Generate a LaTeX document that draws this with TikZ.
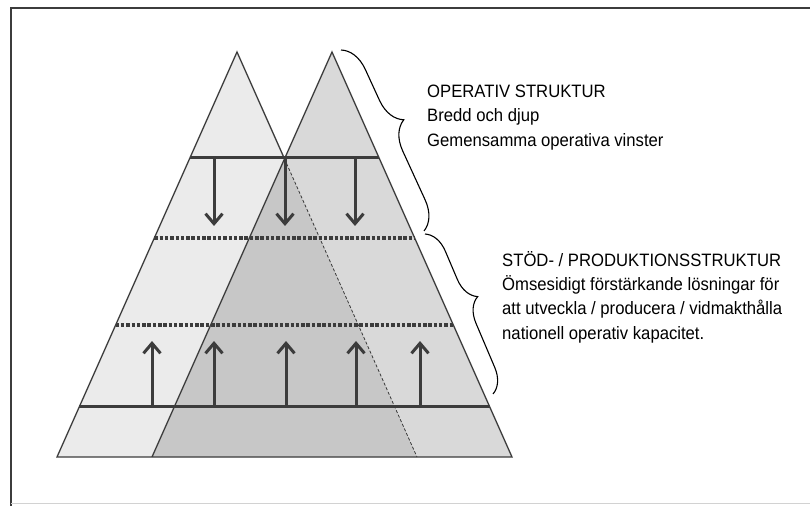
\documentclass[tikz,border=0pt]{standalone}
\usepackage{fontspec}
\setmainfont{Liberation Sans}[FakeStretch=0.93]
\usetikzlibrary{calc,arrows.meta,decorations.pathreplacing}
\definecolor{lightfill}{HTML}{EBEBEB}
\definecolor{midfill}{HTML}{D9D9D9}
\definecolor{darkfill}{HTML}{C7C7C7}
\definecolor{linegray}{HTML}{3C3C3C}
\begin{document}
\begin{tikzpicture}[x=1bp,y=-1bp,
    edge/.style={draw=linegray,line width=1.3bp},
    level/.style={draw=linegray,line width=3bp},
    dots/.style={draw=linegray,line width=3.5bp,dash pattern=on 3.5bp off 1.8bp},
    arr/.style={draw=linegray,line width=3bp,-{Straight Barb[length=10bp,width=17bp]}},
    lbl/.style={anchor=base west,inner sep=0pt,font=\fontsize{18}{24}\selectfont},
    brc/.style={draw=black,line width=1.1bp,decorate,
      decoration={brace,amplitude=#1,aspect=0.45}},
    brc/.default=26bp]
  \useasboundingbox (0,0) rectangle (810,506);
  % frame
  \draw[linegray,line width=2bp] (11,506) -- (11,8) -- (810,8);
  \draw[gray!35,line width=1bp] (11,503) -- (810,503);
  % the two pyramids
  \path
    (237,52) coordinate (lA)
    (57,457) coordinate (lB)
    (417,457) coordinate (lC)
    (332,52) coordinate (rA)
    (152,457) coordinate (rB)
    (512,457) coordinate (rC);
  \path (intersection of lA--lC and rA--rB) coordinate (cross);
  \fill[lightfill] (lA) -- (lB) -- (lC) -- cycle;
  \fill[midfill] (rA) -- (rB) -- (rC) -- cycle;
  \fill[darkfill] (cross) -- (rB) -- (lC) -- cycle;
  \draw[edge] (cross) -- (lA) -- (lB) -- (rC) -- (rA) -- (rB);
  \draw[linegray,line width=0.8bp,dash pattern=on 3bp off 2bp] (cross) -- (lC);
  % levels
  \path
    ($(lA)!0.2617!(lB)$) coordinate (h1w)
    ($(rA)!0.2617!(rC)$) coordinate (h1e)
    ($(lA)!0.4593!(lB)$) coordinate (h2w)
    ($(rA)!0.4593!(rC)$) coordinate (h2e)
    ($(lA)!0.6741!(lB)$) coordinate (h3w)
    ($(rA)!0.6741!(rC)$) coordinate (h3e)
    ($(lA)!0.8765!(lB)$) coordinate (h4w)
    ($(rA)!0.8765!(rC)$) coordinate (h4e);
  \draw[level] (h1w) -- (h1e);
  \draw[dots] (h2w) -- (h2e);
  \draw[dots] (h3w) -- (h3e);
  \draw[level] (h4w) -- (h4e);
  % arrows
  \path
    (214,158) coordinate (d1) (214,226) coordinate (d1t)
    (285,158) coordinate (d2) (285,226) coordinate (d2t)
    (355,158) coordinate (d3) (355,226) coordinate (d3t)
    (152,407) coordinate (u1) (152,341) coordinate (u1t)
    (214,407) coordinate (u2) (214,341) coordinate (u2t)
    (286,407) coordinate (u3) (286,341) coordinate (u3t)
    (356,407) coordinate (u4) (356,341) coordinate (u4t)
    (420,407) coordinate (u5) (420,341) coordinate (u5t);
  \begin{scope}[arr]
    \draw (d1) to (d1t);
    \draw (d2) to (d2t);
    \draw (d3) to (d3t);
    \draw (u1) to (u1t);
    \draw (u2) to (u2t);
    \draw (u3) to (u3t);
    \draw (u4) to (u4t);
    \draw (u5) to (u5t);
  \end{scope}
  % braces
  \path
    (341,50) coordinate (b1s) (424,231) coordinate (b1e)
    (425,234) coordinate (b2s) (493,394) coordinate (b2e);
  \draw[brc=28bp] (b1s) -- (b1e);
  \draw[brc=24bp] (b2s) -- (b2e);
  % texts
  \node[lbl] (op1) at (427,98) {OPERATIV STRUKTUR};
  \node[lbl] (op2) at (427,122) {Bredd och djup};
  \node[lbl] (op3) at (427,147) {Gemensamma operativa vinster};
  \node[lbl] (st1) at (502,267) {STÖD- / PRODUKTIONSSTRUKTUR};
  \node[lbl] (st2) at (502,291) {Ömsesidigt förstärkande lösningar för};
  \node[lbl] (st3) at (502,315) {att utveckla / producera / vidmakthålla};
  \node[lbl] (st4) at (502,339) {nationell operativ kapacitet.};
\end{tikzpicture}
\end{document}
